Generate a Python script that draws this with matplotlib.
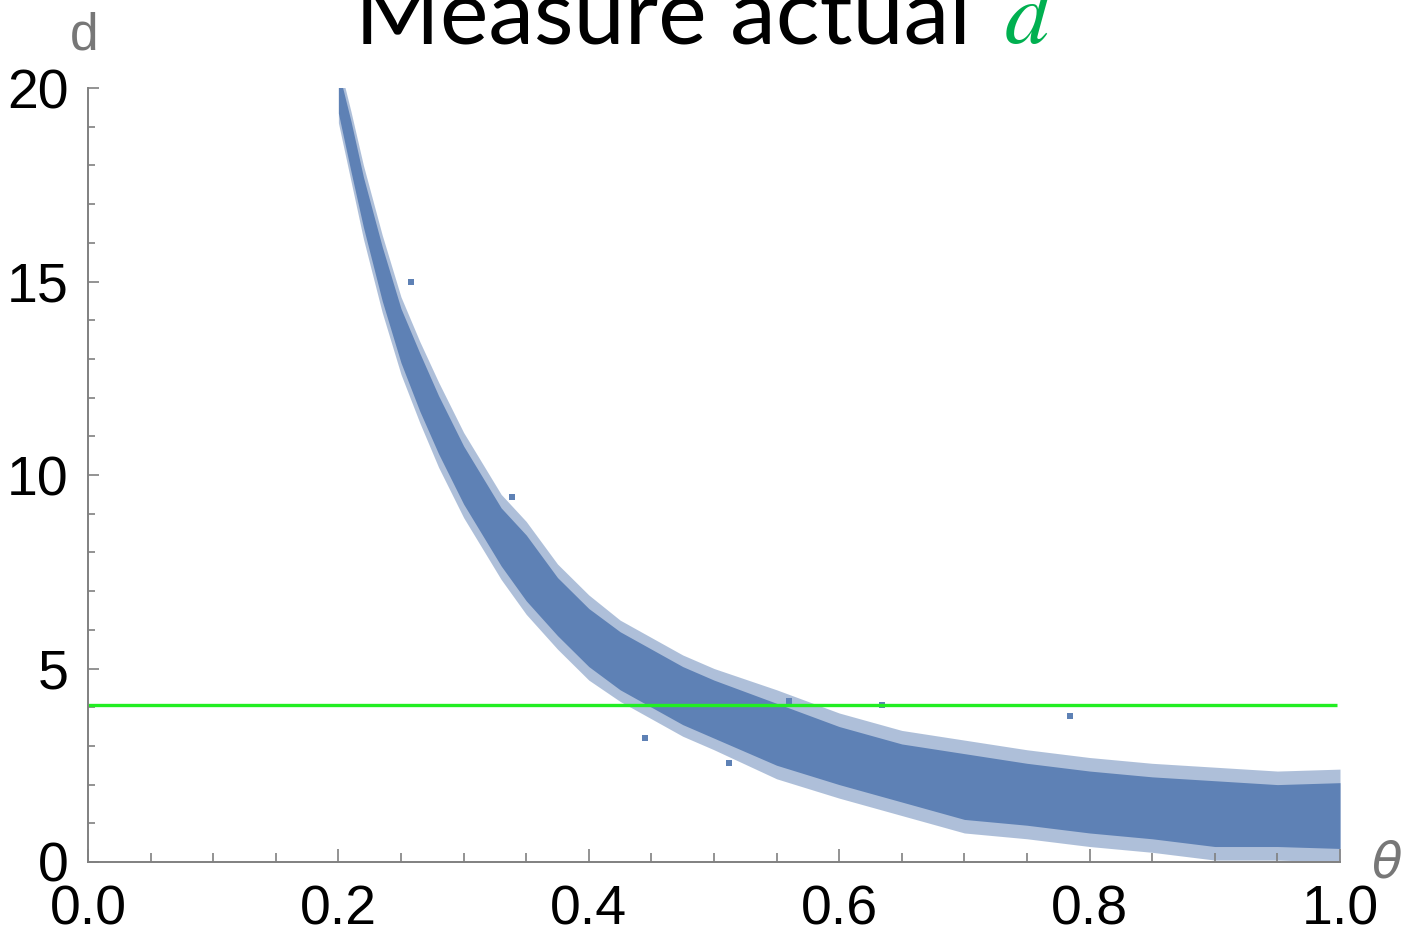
import numpy as np
import matplotlib
matplotlib.use("Agg")
import matplotlib.pyplot as plt
from matplotlib.ticker import MultipleLocator

theta = [0.20, 0.21, 0.22, 0.235, 0.25, 0.265, 0.28, 0.30, 0.33, 0.35, 0.375,
         0.40, 0.425, 0.45, 0.475, 0.50, 0.55, 0.60, 0.65, 0.70, 0.75,
         0.80, 0.85, 0.90, 0.95, 1.00]
outer_hi = [20.7, 19.4, 18.0, 16.2, 14.6, 13.45, 12.4, 11.1, 9.5, 8.8, 7.7,
            6.9, 6.25, 5.8, 5.35, 5.0, 4.45, 3.85, 3.4, 3.15, 2.9,
            2.7, 2.55, 2.45, 2.35, 2.4]
outer_lo = [19.1, 17.6, 16.1, 14.2, 12.6, 11.35, 10.2, 8.9, 7.3, 6.4, 5.5,
            4.7, 4.15, 3.7, 3.25, 2.9, 2.15, 1.65, 1.2, 0.75, 0.6,
            0.4, 0.25, 0.05, 0.05, 0.0]
inner_hi = [20.45, 19.15, 17.7, 15.9, 14.3, 13.15, 12.05, 10.75, 9.15, 8.45, 7.35,
            6.55, 5.95, 5.5, 5.05, 4.7, 4.1, 3.5, 3.05, 2.8, 2.55,
            2.35, 2.2, 2.1, 2.0, 2.05]
inner_lo = [19.35, 17.85, 16.4, 14.5, 12.9, 11.65, 10.55, 9.25, 7.65, 6.75, 5.85,
            5.05, 4.45, 4.0, 3.55, 3.2, 2.5, 2.0, 1.55, 1.1, 0.95,
            0.75, 0.6, 0.4, 0.4, 0.35]

# a few stray points away from the band
stray_theta = [0.339, 0.784, 0.560, 0.512, 0.445, 0.634, 0.258]
stray_d = [9.43, 3.77, 4.15, 2.55, 3.2, 4.05, 15.0]

target_d = 4.05

blue = "#5e81b5"
green = "#22ee22"
axis_gray = "#808080"

fig = plt.figure(figsize=(14.06, 9.36), dpi=100)
ax = fig.add_axes([88 / 1406, 74 / 936, 1252 / 1406, 774 / 936])

ax.fill_between(theta, outer_lo, outer_hi, color=blue, alpha=0.5, lw=0)
ax.fill_between(theta, inner_lo, inner_hi, color=blue, lw=0)
ax.scatter(stray_theta, stray_d, s=14, marker="s", color=blue, lw=0)
ax.hlines(target_d, 0, 0.998, color=green, lw=2.4)

ax.set_xlim(0, 1)
ax.set_ylim(0, 20)
for side in ("top", "right"):
    ax.spines[side].set_visible(False)
for side in ("left", "bottom"):
    ax.spines[side].set_color(axis_gray)
    ax.spines[side].set_linewidth(1.4)

ax.xaxis.set_major_locator(MultipleLocator(0.2))
ax.xaxis.set_minor_locator(MultipleLocator(0.05))
ax.yaxis.set_major_locator(MultipleLocator(5))
ax.yaxis.set_minor_locator(MultipleLocator(1))
ax.set_xticklabels([f"{v:.1f}" for v in ax.get_xticks()])
ax.tick_params(which="both", direction="in", color=axis_gray, width=1.2,
               labelsize=40, labelcolor="black")
ax.tick_params(axis="x", which="major", length=9.5, pad=16)
ax.tick_params(axis="x", which="minor", length=6.5)
ax.tick_params(axis="y", which="major", length=8, pad=14)
ax.tick_params(axis="y", which="minor", length=5)
for lab in ax.get_xticklabels() + ax.get_yticklabels():
    lab.set_fontfamily("Liberation Sans")

# axis names in Mathematica style
fig.text(84 / 1406, 1 - 50 / 936, "d", color="#777777", fontsize=37,
         family="Liberation Sans", ha="center", va="baseline")
fig.text(1387 / 1406, 1 - 878 / 936, r"$\theta$", color="#777777", fontsize=36,
         ha="center", va="baseline")

# title, cut off at the top like the reference
fig.text(355 / 1406, 1 - 43 / 936, "Measure actual ", fontsize=66,
         family="Lato", color="black", ha="left", va="baseline")
fig.text(1005 / 1406, 1 - 43 / 936, "d", fontsize=64, family="STIXGeneral",
         style="italic", color="#00b050", ha="left", va="baseline")

fig.savefig("out.png", dpi=100)
